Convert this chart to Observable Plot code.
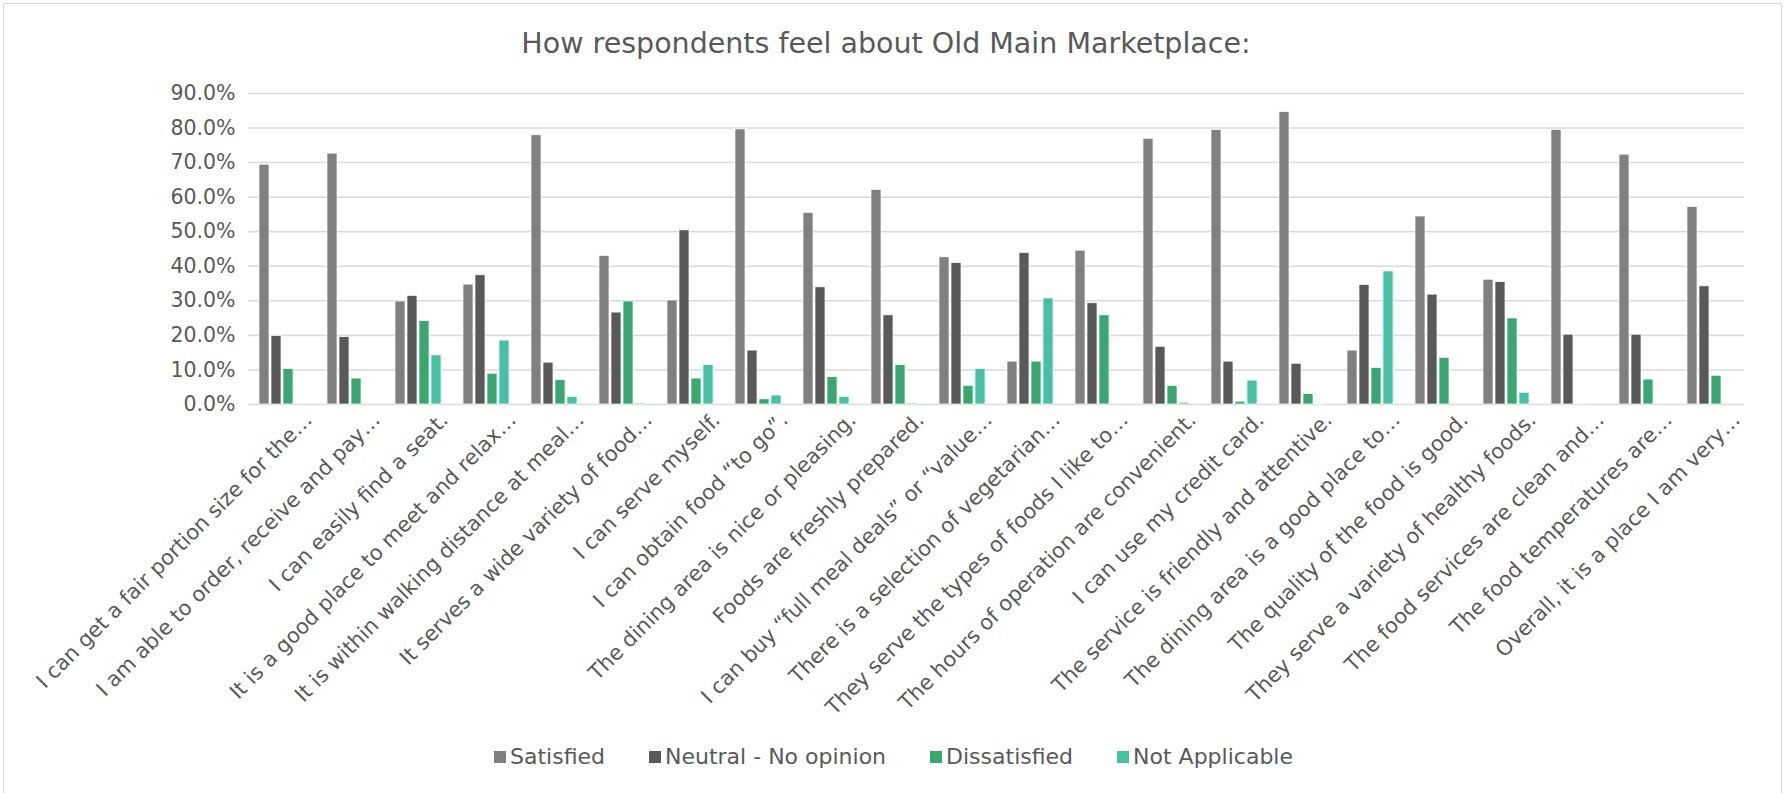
<!DOCTYPE html>
<html>
<head>
<meta charset="utf-8">
<script src="https://cdn.jsdelivr.net/npm/d3@7"></script>
<script src="https://cdn.jsdelivr.net/npm/@observablehq/plot@0.6"></script>
<style>
  html, body { margin: 0; padding: 0; background: #fff; }
  body { width: 1785px; height: 793px; position: relative; overflow: hidden; font-family: "DejaVu Sans", sans-serif; color: #595959; }
  #frame { position: absolute; left: 3px; top: 3px; width: 1779px; height: 820px; border: 1.5px solid #d9d9d9; box-sizing: border-box; z-index: 10; pointer-events: none; }
  #title { position: absolute; left: 0; top: 25px; width: 1772px; text-align: center; font-size: 28.5px; line-height: 38px; color: #595959; }
  #plot { position: absolute; left: 0; top: 75px; }
  #legend { position: absolute; left: 494px; top: 744px; display: flex; gap: 44px; font-size: 22px; line-height: 26px; color: #595959; }
  .item { display: flex; align-items: center; gap: 4px; }
  .sw { width: 12px; height: 12px; display: inline-block; }
</style>
</head>
<body>
<div id="frame"></div>
<div id="title">How respondents feel about Old Main Marketplace:</div>
<div id="plot"></div>
<div id="legend"></div>
<script>
const categories = [
  "I can get a fair portion size for the…",
  "I am able to order, receive and pay…",
  "I can easily find a seat.",
  "It is a good place to meet and relax…",
  "It is within walking distance at meal…",
  "It serves a wide variety of food…",
  "I can serve myself.",
  "I can obtain food \u201Cto go\u201D.",
  "The dining area is nice or pleasing.",
  "Foods are freshly prepared.",
  "I can buy \u201Cfull meal deals\u201D or \u201Cvalue…",
  "There is a selection of vegetarian…",
  "They serve the types of foods I like to…",
  "The hours of operation are convenient.",
  "I can use my credit card.",
  "The service is friendly and attentive.",
  "The dining area is a good place to…",
  "The quality of the food is good.",
  "They serve a variety of healthy foods.",
  "The food services are clean and…",
  "The food temperatures are…",
  "Overall, it is a place I am very…"
];
const series = ["Satisfied", "Neutral - No opinion", "Dissatisfied", "Not Applicable"];
const satisfied     = [69.4, 72.6, 29.8, 34.7, 77.9, 43.0, 30.1, 79.6, 55.4, 62.1, 42.6, 12.4, 44.5, 76.9, 79.4, 84.6, 15.6, 54.4, 36.1, 79.4, 72.3, 57.2];
const neutral       = [19.8, 19.5, 31.4, 37.4, 12.1, 26.6, 50.4, 15.6, 33.9, 25.8, 40.9, 43.8, 29.3, 16.7, 12.4, 11.8, 34.6, 31.8, 35.4, 20.2, 20.2, 34.2];
const dissatisfied  = [10.3,  7.5, 24.1,  8.9,  7.1, 29.8,  7.5,  1.5,  7.9, 11.4,  5.4, 12.4, 25.8,  5.4,  0.8,  3.0, 10.6, 13.5, 24.9,  0.2,  7.2,  8.3];
const notApplicable = [ 0.0,  0.0, 14.2, 18.5,  2.2,  0.3, 11.4,  2.6,  2.2,  0.3, 10.3, 30.7,  0.0,  0.5,  6.9,  0.2, 38.5,  0.0,  3.4,  0.0,  0.0,  0.0];
const yTicks = [0, 10, 20, 30, 40, 50, 60, 70, 80, 90];
const colors = ["#808080", "#595959", "#38a86e", "#46c1a3"];

const seriesValues = [satisfied, neutral, dissatisfied, notApplicable];
const data = categories.flatMap((c, i) =>
  seriesValues.map((arr, j) => ({category: c, series: series[j], value: arr[i]}))
).filter(d => d.value > 0);

const chart = Plot.plot({
  width: 1785,
  height: 655,
  marginLeft: 239,
  marginRight: 33,
  marginTop: 18,
  marginBottom: 326,
  style: {fontFamily: "DejaVu Sans, sans-serif", fontSize: "20px", color: "#595959", background: "transparent", overflow: "visible"},
  fx: {domain: categories, padding: 0, label: null},
  x: {domain: series, paddingInner: 0.16, paddingOuter: 0.85, axis: null},
  y: {domain: [0, 90], label: null},
  color: {domain: series, range: colors},
  marks: [
    Plot.gridY(yTicks, {stroke: "#d9d9d9", strokeOpacity: 1, strokeWidth: 1.5}),
    Plot.axisY(yTicks, {tickSize: 0, tickPadding: 13, tickFormat: d => d.toFixed(1) + "%", fontSize: 20.5, label: null, fill: "#595959"}),
    Plot.axisFx({anchor: "bottom", tickSize: 0, tickPadding: 0, tickRotate: -45, textAnchor: "end", lineAnchor: "middle", dx: 26, dy: 12, fontSize: 21, label: null, fill: "#595959"}),
    Plot.barY(data, {fx: "category", x: "series", y: "value", fill: "series", stroke: "white", strokeWidth: 0.7})
  ]
});
document.getElementById("plot").appendChild(chart);

const legend = document.getElementById("legend");
series.forEach((s, j) => {
  const item = document.createElement("div");
  item.className = "item";
  const sw = document.createElement("span");
  sw.className = "sw";
  sw.style.background = colors[j];
  const t = document.createElement("span");
  t.textContent = s;
  item.appendChild(sw);
  item.appendChild(t);
  legend.appendChild(item);
});
</script>
</body>
</html>
